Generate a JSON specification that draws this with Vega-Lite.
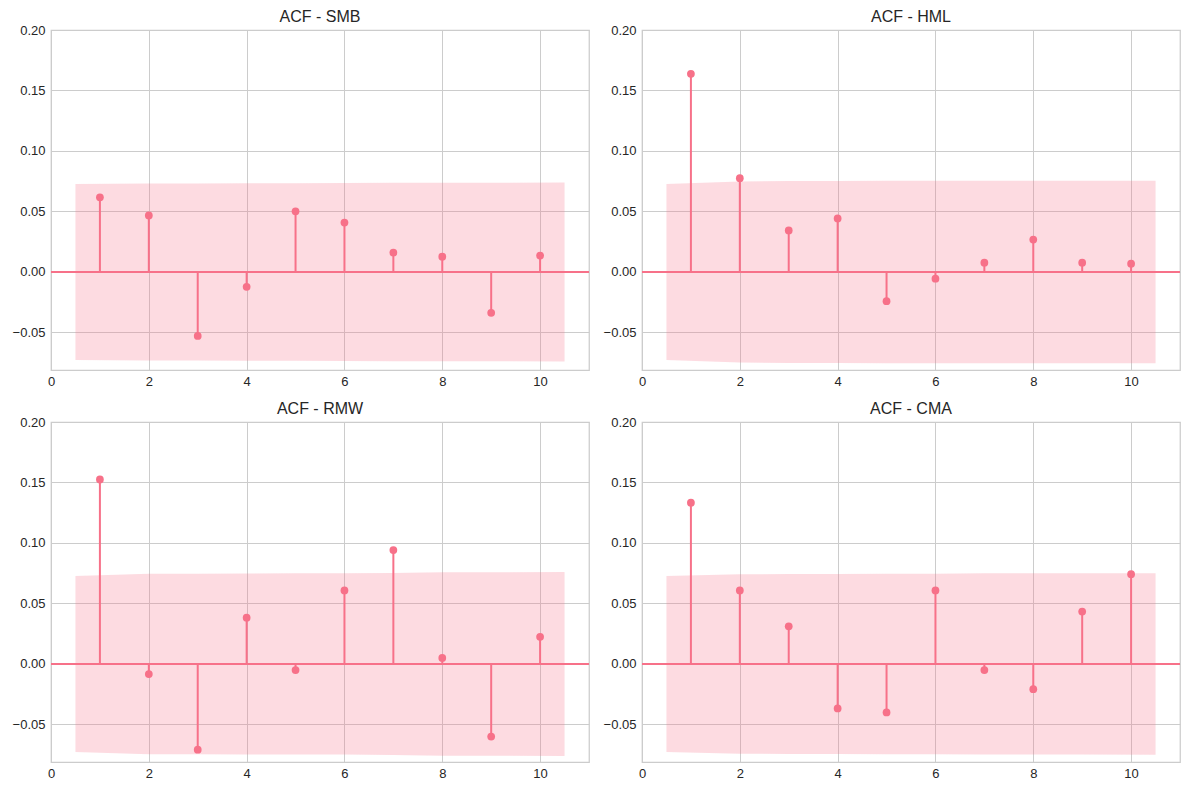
{
  "$schema": "https://vega.github.io/schema/vega-lite/v6.json",
  "autosize": {"type": "none"},
  "padding": {"left": 51, "top": 30, "right": 1138, "bottom": 760},
  "background": "white",
  "config": {
    "font": "Liberation Sans",
    "view": {"stroke": "#cccccc", "strokeWidth": 1.25},
    "title": {"fontSize": 16, "fontWeight": "normal", "color": "#262626", "offset": -1, "font": "Liberation Sans"},
    "axis": {
      "grid": true, "gridColor": "#cccccc", "gridWidth": 1, "domain": false, "ticks": false,
      "labelColor": "#262626", "labelFontSize": 13, "labelFont": "Liberation Sans", "labelPadding": 6, "title": null
    },
    "axisY": {"labelFlush": false},
    "axisX": {"labelFlush": false, "labelPadding": 5}
  },
  "datasets": {
    "acf": [
      {"series": "SMB", "lag": 1, "acf": 0.0617}, {"series": "SMB", "lag": 2, "acf": 0.0467}, {"series": "SMB", "lag": 3, "acf": -0.0528}, {"series": "SMB", "lag": 4, "acf": -0.0122}, {"series": "SMB", "lag": 5, "acf": 0.0501}, {"series": "SMB", "lag": 6, "acf": 0.0409}, {"series": "SMB", "lag": 7, "acf": 0.016}, {"series": "SMB", "lag": 8, "acf": 0.0127}, {"series": "SMB", "lag": 9, "acf": -0.0337}, {"series": "SMB", "lag": 10, "acf": 0.0136},
      {"series": "HML", "lag": 1, "acf": 0.1638}, {"series": "HML", "lag": 2, "acf": 0.0775}, {"series": "HML", "lag": 3, "acf": 0.0343}, {"series": "HML", "lag": 4, "acf": 0.0443}, {"series": "HML", "lag": 5, "acf": -0.0241}, {"series": "HML", "lag": 6, "acf": -0.0055}, {"series": "HML", "lag": 7, "acf": 0.0077}, {"series": "HML", "lag": 8, "acf": 0.0268}, {"series": "HML", "lag": 9, "acf": 0.0077}, {"series": "HML", "lag": 10, "acf": 0.0069},
      {"series": "RMW", "lag": 1, "acf": 0.1525}, {"series": "RMW", "lag": 2, "acf": -0.0083}, {"series": "RMW", "lag": 3, "acf": -0.0708}, {"series": "RMW", "lag": 4, "acf": 0.0383}, {"series": "RMW", "lag": 5, "acf": -0.005}, {"series": "RMW", "lag": 6, "acf": 0.0608}, {"series": "RMW", "lag": 7, "acf": 0.0942}, {"series": "RMW", "lag": 8, "acf": 0.005}, {"series": "RMW", "lag": 9, "acf": -0.06}, {"series": "RMW", "lag": 10, "acf": 0.0225},
      {"series": "CMA", "lag": 1, "acf": 0.1333}, {"series": "CMA", "lag": 2, "acf": 0.0608}, {"series": "CMA", "lag": 3, "acf": 0.0311}, {"series": "CMA", "lag": 4, "acf": -0.0367}, {"series": "CMA", "lag": 5, "acf": -0.04}, {"series": "CMA", "lag": 6, "acf": 0.0608}, {"series": "CMA", "lag": 7, "acf": -0.005}, {"series": "CMA", "lag": 8, "acf": -0.0208}, {"series": "CMA", "lag": 9, "acf": 0.0433}, {"series": "CMA", "lag": 10, "acf": 0.0742}
    ],
    "band": [
      {"series": "SMB", "x": 0.5, "hi": 0.0728, "lo": -0.0728}, {"series": "SMB", "x": 2, "hi": 0.0731, "lo": -0.0731}, {"series": "SMB", "x": 3, "hi": 0.0732, "lo": -0.0732}, {"series": "SMB", "x": 4, "hi": 0.0734, "lo": -0.0734}, {"series": "SMB", "x": 5, "hi": 0.0734, "lo": -0.0734}, {"series": "SMB", "x": 6, "hi": 0.0736, "lo": -0.0736}, {"series": "SMB", "x": 7, "hi": 0.0737, "lo": -0.0737}, {"series": "SMB", "x": 8, "hi": 0.0738, "lo": -0.0738}, {"series": "SMB", "x": 9, "hi": 0.0738, "lo": -0.0738}, {"series": "SMB", "x": 10.5, "hi": 0.0739, "lo": -0.0739},
      {"series": "HML", "x": 0.5, "hi": 0.0728, "lo": -0.0728}, {"series": "HML", "x": 2, "hi": 0.0747, "lo": -0.0747}, {"series": "HML", "x": 3, "hi": 0.0752, "lo": -0.0752}, {"series": "HML", "x": 4, "hi": 0.0752, "lo": -0.0752}, {"series": "HML", "x": 5, "hi": 0.0754, "lo": -0.0754}, {"series": "HML", "x": 6, "hi": 0.0754, "lo": -0.0754}, {"series": "HML", "x": 7, "hi": 0.0754, "lo": -0.0754}, {"series": "HML", "x": 8, "hi": 0.0754, "lo": -0.0754}, {"series": "HML", "x": 9, "hi": 0.0755, "lo": -0.0755}, {"series": "HML", "x": 10.5, "hi": 0.0755, "lo": -0.0755},
      {"series": "RMW", "x": 0.5, "hi": 0.0728, "lo": -0.0728}, {"series": "RMW", "x": 2, "hi": 0.0745, "lo": -0.0745}, {"series": "RMW", "x": 3, "hi": 0.0745, "lo": -0.0745}, {"series": "RMW", "x": 4, "hi": 0.0748, "lo": -0.0748}, {"series": "RMW", "x": 5, "hi": 0.0749, "lo": -0.0749}, {"series": "RMW", "x": 6, "hi": 0.0749, "lo": -0.0749}, {"series": "RMW", "x": 7, "hi": 0.0752, "lo": -0.0752}, {"series": "RMW", "x": 8, "hi": 0.0758, "lo": -0.0758}, {"series": "RMW", "x": 9, "hi": 0.0758, "lo": -0.0758}, {"series": "RMW", "x": 10.5, "hi": 0.0761, "lo": -0.0761},
      {"series": "CMA", "x": 0.5, "hi": 0.0728, "lo": -0.0728}, {"series": "CMA", "x": 2, "hi": 0.0741, "lo": -0.0741}, {"series": "CMA", "x": 3, "hi": 0.0744, "lo": -0.0744}, {"series": "CMA", "x": 4, "hi": 0.0744, "lo": -0.0744}, {"series": "CMA", "x": 5, "hi": 0.0745, "lo": -0.0745}, {"series": "CMA", "x": 6, "hi": 0.0746, "lo": -0.0746}, {"series": "CMA", "x": 7, "hi": 0.0749, "lo": -0.0749}, {"series": "CMA", "x": 8, "hi": 0.0749, "lo": -0.0749}, {"series": "CMA", "x": 9, "hi": 0.0749, "lo": -0.0749}, {"series": "CMA", "x": 10.5, "hi": 0.0751, "lo": -0.0751}
    ]
  },
  "columns": 2,
  "spacing": {"row": 52, "column": 53},
  "bounds": "flush",
  "concat": [
    {
      "title": {"text": "ACF - SMB", "fontWeight": "normal"}, "width": 538, "height": 340,
      "layer": [
        {"data": {"name": "band"}, "transform": [{"filter": "datum.series === 'SMB'"}], "mark": {"type": "area", "color": "#f77189", "opacity": 0.25},
         "encoding": {"x": {"field": "x", "type": "quantitative", "scale": {"domain": [0, 11], "nice": false, "zero": false}, "axis": {"values": [0, 2, 4, 6, 8, 10]}},
                      "y": {"field": "hi", "type": "quantitative", "scale": {"domain": [-0.081, 0.2], "nice": false, "zero": false}, "axis": {"values": [-0.05, 0, 0.05, 0.1, 0.15, 0.2], "format": ".2f"}}, "y2": {"field": "lo"}}},
        {"data": {"values": [{}]}, "mark": {"type": "rule", "color": "#f77189", "strokeWidth": 2}, "encoding": {"y": {"datum": 0}}},
        {"data": {"name": "acf"}, "transform": [{"filter": "datum.series === 'SMB'"}], "mark": {"type": "rule", "color": "#f77189", "strokeWidth": 2},
         "encoding": {"x": {"field": "lag", "type": "quantitative"}, "y": {"field": "acf", "type": "quantitative"}, "y2": {"datum": 0}}},
        {"data": {"name": "acf"}, "transform": [{"filter": "datum.series === 'SMB'"}], "mark": {"type": "point", "shape": "circle", "filled": true, "opacity": 1, "size": 60, "color": "#f77189"},
         "encoding": {"x": {"field": "lag", "type": "quantitative"}, "y": {"field": "acf", "type": "quantitative"}}}
      ]
    },
    {
      "title": {"text": "ACF - HML", "fontWeight": "normal"}, "width": 538, "height": 340,
      "layer": [
        {"data": {"name": "band"}, "transform": [{"filter": "datum.series === 'HML'"}], "mark": {"type": "area", "color": "#f77189", "opacity": 0.25},
         "encoding": {"x": {"field": "x", "type": "quantitative", "scale": {"domain": [0, 11], "nice": false, "zero": false}, "axis": {"values": [0, 2, 4, 6, 8, 10]}},
                      "y": {"field": "hi", "type": "quantitative", "scale": {"domain": [-0.081, 0.2], "nice": false, "zero": false}, "axis": {"values": [-0.05, 0, 0.05, 0.1, 0.15, 0.2], "format": ".2f"}}, "y2": {"field": "lo"}}},
        {"data": {"values": [{}]}, "mark": {"type": "rule", "color": "#f77189", "strokeWidth": 2}, "encoding": {"y": {"datum": 0}}},
        {"data": {"name": "acf"}, "transform": [{"filter": "datum.series === 'HML'"}], "mark": {"type": "rule", "color": "#f77189", "strokeWidth": 2},
         "encoding": {"x": {"field": "lag", "type": "quantitative"}, "y": {"field": "acf", "type": "quantitative"}, "y2": {"datum": 0}}},
        {"data": {"name": "acf"}, "transform": [{"filter": "datum.series === 'HML'"}], "mark": {"type": "point", "shape": "circle", "filled": true, "opacity": 1, "size": 60, "color": "#f77189"},
         "encoding": {"x": {"field": "lag", "type": "quantitative"}, "y": {"field": "acf", "type": "quantitative"}}}
      ]
    },
    {
      "title": {"text": "ACF - RMW", "fontWeight": "normal"}, "width": 538, "height": 340,
      "layer": [
        {"data": {"name": "band"}, "transform": [{"filter": "datum.series === 'RMW'"}], "mark": {"type": "area", "color": "#f77189", "opacity": 0.25},
         "encoding": {"x": {"field": "x", "type": "quantitative", "scale": {"domain": [0, 11], "nice": false, "zero": false}, "axis": {"values": [0, 2, 4, 6, 8, 10]}},
                      "y": {"field": "hi", "type": "quantitative", "scale": {"domain": [-0.081, 0.2], "nice": false, "zero": false}, "axis": {"values": [-0.05, 0, 0.05, 0.1, 0.15, 0.2], "format": ".2f"}}, "y2": {"field": "lo"}}},
        {"data": {"values": [{}]}, "mark": {"type": "rule", "color": "#f77189", "strokeWidth": 2}, "encoding": {"y": {"datum": 0}}},
        {"data": {"name": "acf"}, "transform": [{"filter": "datum.series === 'RMW'"}], "mark": {"type": "rule", "color": "#f77189", "strokeWidth": 2},
         "encoding": {"x": {"field": "lag", "type": "quantitative"}, "y": {"field": "acf", "type": "quantitative"}, "y2": {"datum": 0}}},
        {"data": {"name": "acf"}, "transform": [{"filter": "datum.series === 'RMW'"}], "mark": {"type": "point", "shape": "circle", "filled": true, "opacity": 1, "size": 60, "color": "#f77189"},
         "encoding": {"x": {"field": "lag", "type": "quantitative"}, "y": {"field": "acf", "type": "quantitative"}}}
      ]
    },
    {
      "title": {"text": "ACF - CMA", "fontWeight": "normal"}, "width": 538, "height": 340,
      "layer": [
        {"data": {"name": "band"}, "transform": [{"filter": "datum.series === 'CMA'"}], "mark": {"type": "area", "color": "#f77189", "opacity": 0.25},
         "encoding": {"x": {"field": "x", "type": "quantitative", "scale": {"domain": [0, 11], "nice": false, "zero": false}, "axis": {"values": [0, 2, 4, 6, 8, 10]}},
                      "y": {"field": "hi", "type": "quantitative", "scale": {"domain": [-0.081, 0.2], "nice": false, "zero": false}, "axis": {"values": [-0.05, 0, 0.05, 0.1, 0.15, 0.2], "format": ".2f"}}, "y2": {"field": "lo"}}},
        {"data": {"values": [{}]}, "mark": {"type": "rule", "color": "#f77189", "strokeWidth": 2}, "encoding": {"y": {"datum": 0}}},
        {"data": {"name": "acf"}, "transform": [{"filter": "datum.series === 'CMA'"}], "mark": {"type": "rule", "color": "#f77189", "strokeWidth": 2},
         "encoding": {"x": {"field": "lag", "type": "quantitative"}, "y": {"field": "acf", "type": "quantitative"}, "y2": {"datum": 0}}},
        {"data": {"name": "acf"}, "transform": [{"filter": "datum.series === 'CMA'"}], "mark": {"type": "point", "shape": "circle", "filled": true, "opacity": 1, "size": 60, "color": "#f77189"},
         "encoding": {"x": {"field": "lag", "type": "quantitative"}, "y": {"field": "acf", "type": "quantitative"}}}
      ]
    }
  ]
}
